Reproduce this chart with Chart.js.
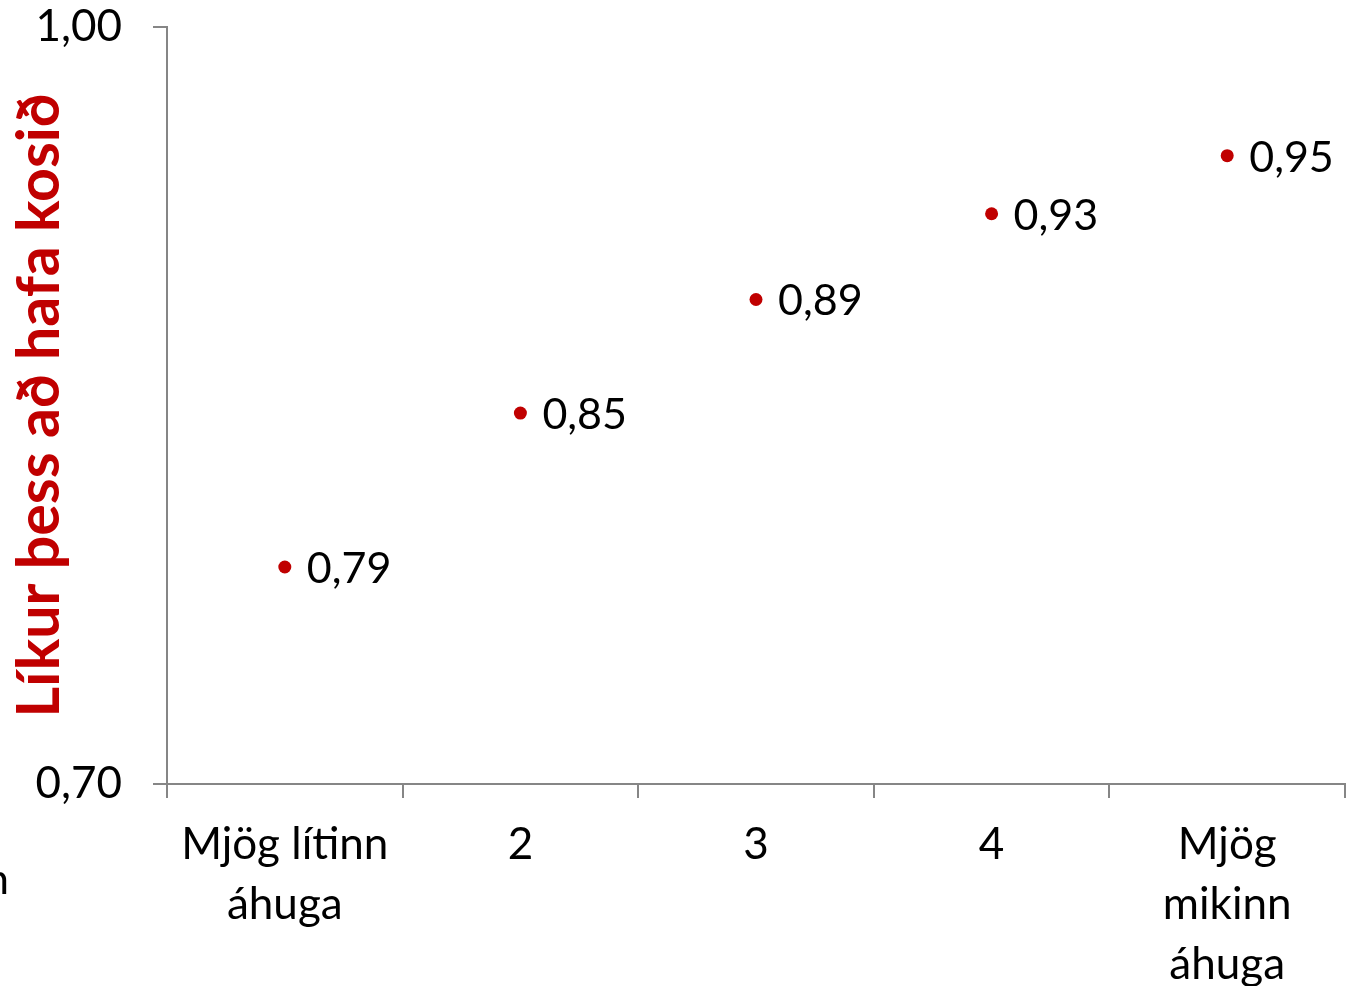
<!DOCTYPE html>
<html>
<head>
<meta charset="utf-8">
<script src="https://cdn.jsdelivr.net/npm/chart.js@4"></script>
<style>
  html, body { margin: 0; padding: 0; background: #fff; }
  #wrap { width: 1352px; height: 986px; }
</style>
</head>
<body>
<div id="wrap"><canvas id="chart" width="1352" height="986"></canvas></div>
<script>
// chart data
const categories = [['Mjög lítinn', 'áhuga'], '2', '3', '4', ['Mjög', 'mikinn', 'áhuga']];
const probabilities = [0.786, 0.847, 0.892, 0.926, 0.949];
const yTicks = [0.70, 1.00];
const yTitle = 'Líkur þess að hafa kosið';

const RED = '#C00000';
const AXIS = '#868686';
const FONT = 'Lato, "Open Sans", sans-serif';

const fmt = v => v.toFixed(2).replace('.', ',');

// data labels to the right of each point
const pointLabels = {
  id: 'pointLabels',
  afterDatasetsDraw(chart) {
    const ctx = chart.ctx;
    const meta = chart.getDatasetMeta(0);
    ctx.save();
    ctx.font = '43px ' + FONT;
    ctx.fillStyle = '#000';
    ctx.textAlign = 'left';
    ctx.textBaseline = 'middle';
    meta.data.forEach((pt, i) => {
      ctx.fillText(fmt(probabilities[i]), pt.x + 22, pt.y + 2);
    });
    // clipped fragment at the left edge
    ctx.fillText('n', -15, 880);
    ctx.restore();
  }
};

new Chart(document.getElementById('chart'), {
  type: 'line',
  data: {
    labels: categories,
    datasets: [{
      data: probabilities,
      showLine: false,
      pointRadius: 6.5,
      pointHoverRadius: 6.5,
      pointBackgroundColor: RED,
      pointBorderColor: RED,
      pointBorderWidth: 0
    }]
  },
  options: {
    responsive: false,
    animation: false,
    layout: { padding: { top: 27, right: 7, left: 0, bottom: 0 } },
    plugins: {
      legend: { display: false },
      tooltip: { enabled: false }
    },
    scales: {
      x: {
        offset: true,
        grid: {
          offset: true,
          drawOnChartArea: false,
          color: AXIS,
          lineWidth: 2,
          tickLength: 14
        },
        border: { color: AXIS, width: 2 },
        ticks: {
          color: '#000',
          padding: 17,
          maxRotation: 0,
          autoSkip: false,
          font: { family: FONT, size: 44, lineHeight: 1.36 }
        },
        afterFit(scale) { scale.height = 202; }
      },
      y: {
        min: 0.7,
        max: 1.0,
        afterBuildTicks(scale) {
          scale.ticks = yTicks.map(v => ({ value: v }));
        },
        grid: {
          drawOnChartArea: false,
          color: AXIS,
          lineWidth: 2,
          tickLength: 14
        },
        border: { color: AXIS, width: 2 },
        ticks: {
          color: '#000',
          padding: 31,
          font: { family: FONT, size: 44 },
          callback: v => fmt(v)
        },
        title: {
          display: true,
          text: yTitle,
          color: RED,
          padding: { top: 5, bottom: 0 },
          font: { family: FONT, size: 59, weight: 'bold' }
        },
        afterFit(scale) {
          scale.width = 167;
          scale.paddingTop = 0;
          scale.paddingBottom = 0;
        }
      }
    }
  },
  plugins: [pointLabels]
});
</script>
</body>
</html>
